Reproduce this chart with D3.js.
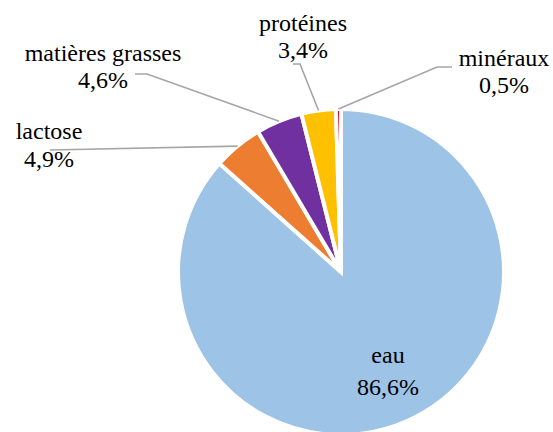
<!DOCTYPE html>
<html>
<head>
<meta charset="utf-8">
<script src="https://cdn.jsdelivr.net/npm/d3@7"></script>
</head>
<body style="margin:0">
<svg id="pie" width="553" height="432"></svg>
<script>
// ---- data ----
const categories = ["eau", "lactose", "matières grasses", "protéines", "minéraux"];
const values = [86.6, 4.9, 4.6, 3.4, 0.5];
const valueLabels = ["86,6%", "4,9%", "4,6%", "3,4%", "0,5%"];
const colors = ["#9DC3E6", "#ED7D31", "#7030A0", "#FFC000", "#FF0000"];

// ---- layout ----
const cx = 341, cy = 272, R = 163;
const FONT = "Liberation Serif";
const FONT_SIZE = 24;
const labelLayout = [
  { x: 388, y1: 363, y2: 395, leader: null },
  { x: 49,  y1: 139, y2: 167, leader: [[50, 150]] },
  { x: 103, y1: 61,  y2: 88,  leader: [[135, 74], [147, 74]] },
  { x: 303, y1: 31,  y2: 58,  leader: [[293, 64], [300, 64]] },
  { x: 504, y1: 66,  y2: 93,  leader: [[452, 67], [437, 67]] }
];

const svg = d3.select("#pie");
const g = svg.append("g").attr("transform", `translate(${cx},${cy})`);

const data = categories.map((c, i) => ({ name: c, value: values[i], label: valueLabels[i], color: colors[i] }));
const pie = d3.pie().value(d => d.value).sort(null).startAngle(0).endAngle(2 * Math.PI);
const arcs = pie(data);
const arc = d3.arc().innerRadius(0).outerRadius(R);
const edge = d3.arc().innerRadius(R).outerRadius(R);

g.selectAll("path.slice")
  .data(arcs)
  .join("path")
  .attr("class", "slice")
  .attr("d", arc)
  .attr("fill", d => d.data.color)
  .attr("stroke", "#fff")
  .attr("stroke-width", 4);

// leader lines
const line = d3.line();
arcs.forEach((a, i) => {
  const L = labelLayout[i];
  if (!L.leader) return;
  const c = edge.centroid(a);
  const pts = L.leader.concat([[c[0] + cx, c[1] + cy]]);
  svg.append("path")
    .attr("d", line(pts))
    .attr("fill", "none")
    .attr("stroke", "#A6A6A6")
    .attr("stroke-width", 1.6);
});

// labels
arcs.forEach((a, i) => {
  const L = labelLayout[i];
  [[L.y1, a.data.name], [L.y2, a.data.label]].forEach(([y, s]) => {
    svg.append("text")
      .attr("x", L.x).attr("y", y)
      .attr("text-anchor", "middle")
      .attr("font-family", FONT)
      .attr("font-size", FONT_SIZE)
      .style("font-family", FONT)
      .style("font-size", FONT_SIZE + "px")
      .attr("fill", "#000")
      .text(s);
  });
});
</script>
</body>
</html>
